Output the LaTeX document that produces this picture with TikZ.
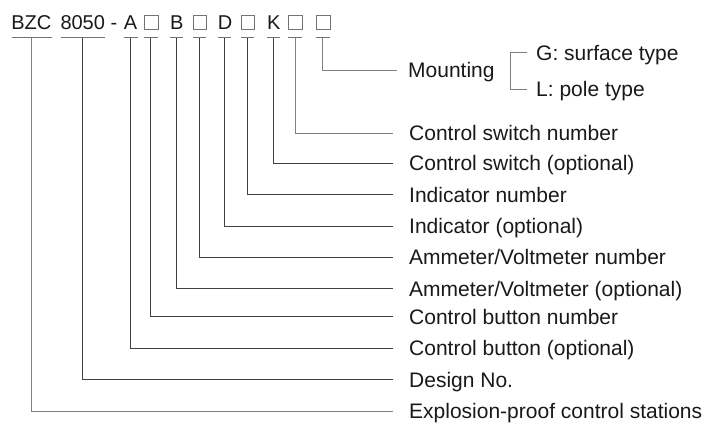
\documentclass[tikz,border=0pt]{standalone}
\usepackage{fontspec}
\setmainfont{Liberation Sans}
\begin{document}
\begin{tikzpicture}[x=1pt,y=-1pt,
  conn/.style={draw=black!75,line width=0.9pt},
  lightconn/.style={draw=black!50,line width=1pt},
  uline/.style={draw=black!55,line width=0.9pt},
  code/.style={inner sep=0pt,anchor=base west,font=\fontsize{20}{24}\selectfont,text=black!90},
  sq/.style={draw=black!55,line width=0.6pt,minimum size=13.5pt,inner sep=0pt,anchor=north west},
  lbl/.style={inner sep=0pt,anchor=west,text height=15pt,text depth=0pt,font=\fontsize{21}{25}\selectfont,text=black!90}]
\useasboundingbox (0,0) rectangle (707,423);
% top code
\node[code] (bzc) at (11.2,29.3) {BZC};
\node[code] (n8050) at (60.3,29.3) {8050};
\node[code] (dash) at (110.5,29.3) {-};
\node[code] (A) at (123.6,29.3) {A};
\node[sq] (s1) at (144.3,15.3) {};
\node[code] (B) at (169.8,29.3) {B};
\node[sq] (s2) at (192.8,15.3) {};
\node[code] (D) at (217.6,29.3) {D};
\node[sq] (s3) at (240.8,15.3) {};
\node[code] (K) at (266.8,29.3) {K};
\node[sq] (s4) at (288.3,15.3) {};
\node[sq] (s5) at (316,15.3) {};
% underlines
\foreach \n/\a/\b in {uBZC/11.7/51.7, u8050/60.7/105, uA/124/137.5, us1/144.3/157.5, uB/170/183, us2/192.8/206, uD/218/231, us3/240.8/254, uK/267/280, us4/288.3/301.7, us5/316/329.5}{
  \draw[uline] (\a,37.7) -- (\b,37.7);
  \coordinate (\n) at ({(\a+\b)/2},37.7);
}
% labels
\node[lbl] (l1) at (409,133) {Control switch number};
\node[lbl] (l2) at (409,163.3) {Control switch (optional)};
\node[lbl] (l3) at (409,194.5) {Indicator number};
\node[lbl] (l4) at (409,226) {Indicator (optional)};
\node[lbl] (l5) at (409,257.3) {Ammeter/Voltmeter number};
\node[lbl] (l6) at (409,288.5) {Ammeter/Voltmeter (optional)};
\node[lbl] (l7) at (409,316.5) {Control button number};
\node[lbl] (l8) at (409,348) {Control button (optional)};
\node[lbl] (l9) at (409,379.5) {Design No.};
\node[lbl] (l10) at (409,411) {Explosion-proof control stations};
% mounting
\node[lbl] (mnt) at (408,70) {Mounting};
\node[lbl] (g) at (536,52.5) {G: surface type};
\node[lbl] (l) at (536,89) {L: pole type};
% connectors
\draw[lightconn] (us4) |- ([xshift=-16pt]l1.west);
\draw[conn] (uK) |- ([xshift=-16pt]l2.west);
\draw[conn] (us3) |- ([xshift=-16pt]l3.west);
\draw[conn] (uD) |- ([xshift=-16pt]l4.west);
\draw[conn] (us2) |- ([xshift=-16pt]l5.west);
\draw[conn] (uB) |- ([xshift=-16pt]l6.west);
\draw[conn] (us1) |- ([xshift=-16pt]l7.west);
\draw[conn] (uA) |- ([xshift=-16pt]l8.west);
\draw[conn] (u8050) |- ([xshift=-16pt]l9.west);
\draw[lightconn] (uBZC) |- ([xshift=-16pt]l10.west);
\draw[lightconn] (us5) |- ([xshift=-11.5pt]mnt.west);
\draw[lightconn] ([xshift=-9.3pt]g.west) -- ++(-16,0) coordinate (gb) |- ([xshift=-9.3pt]l.west);
\end{tikzpicture}
\end{document}
